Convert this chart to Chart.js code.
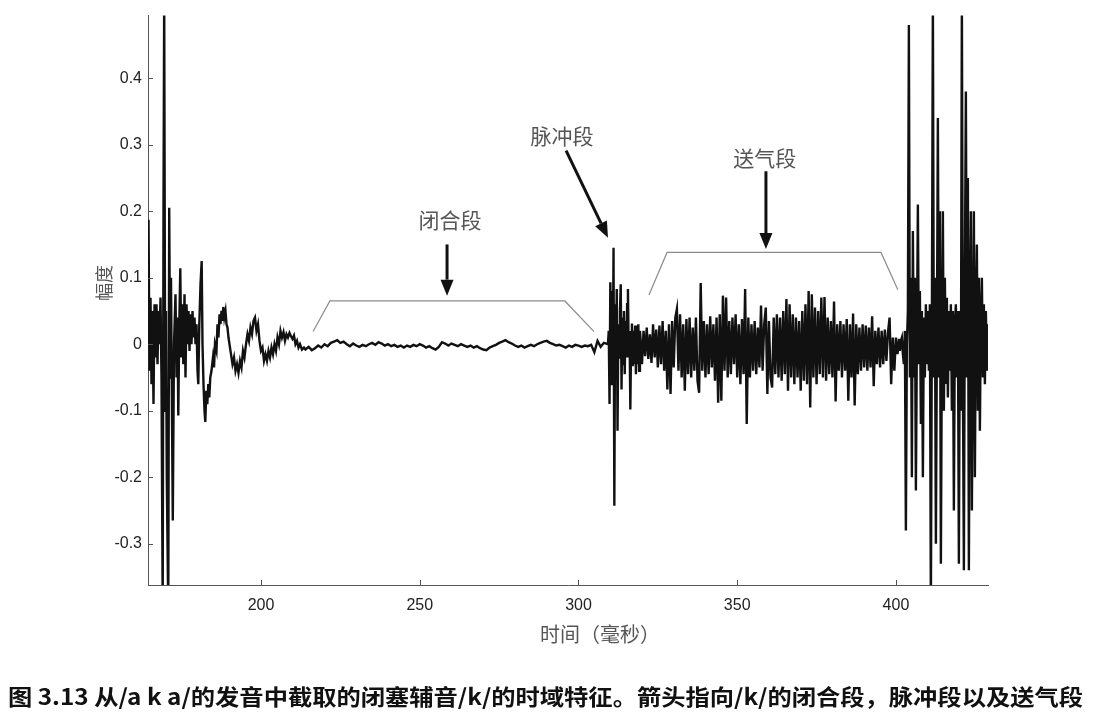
<!DOCTYPE html>
<html lang="zh">
<head>
<meta charset="utf-8">
<title>闭塞辅音/k/的时域特征</title>
<script src="https://cdn.jsdelivr.net/npm/chart.js@4.4.1/dist/chart.umd.min.js"></script>
<style>
  html, body { margin: 0; padding: 0; background: #fff; }
  canvas { display: block; }
</style>
</head>
<body>
<canvas id="wave" width="1107" height="726"></canvas>
<script>
'use strict';

/* ── Data: waveform segments (time in ms, amplitude) ─────────────── */
// onset of /a/ and decay into the closure, irregular samples
const onsetTime = [
  164.40, 164.56, 164.87, 165.19, 165.50, 165.82, 166.13, 166.45, 166.76, 167.08,
  167.39, 167.71, 168.02, 168.34, 168.65, 169.03, 169.28, 169.50, 169.82, 170.07,
  170.32, 170.79, 171.08, 171.39, 171.64, 172.21, 172.59, 173.06, 173.38, 173.69,
  173.94, 174.26, 174.57, 174.89, 175.20, 175.52, 175.90, 176.21, 176.53, 176.84,
  177.16, 177.47, 177.79, 178.10, 178.42, 178.73, 179.05, 179.36, 179.68, 179.99,
  180.24, 180.56, 180.94, 181.31, 181.57, 181.88, 182.20, 182.45, 182.76, 183.08,
  183.39, 183.71, 184.02, 184.40, 184.87, 185.19, 185.50, 185.97, 186.29, 186.60,
  186.92, 187.23, 187.55, 187.86, 188.12, 188.43, 188.81, 189.13, 189.44, 189.76,
  190.07, 190.54, 191.01, 191.49, 191.96, 192.43, 192.90, 193.38, 193.85, 194.32,
  194.79, 195.27, 195.74, 196.21, 196.68, 197.16, 197.63, 198.10, 198.57, 199.05,
  199.52, 199.99, 200.46, 200.94, 201.41, 201.88, 202.35, 202.83, 203.30, 203.77,
  204.24, 204.71, 205.19, 205.66, 206.13, 206.60, 207.08, 207.55, 208.02, 208.49,
  208.97, 209.44, 209.91, 210.38, 210.86, 211.33, 211.80, 212.27, 212.90, 213.53
];
const onsetAmp = [
  0.000, 0.187, -0.040, 0.070, -0.060, 0.050, -0.090, 0.060, -0.020, 0.060,
  -0.030, 0.050, 0.000, 0.070, -0.050, -0.400, 0.200, 0.520, -0.100, 0.050,
  -0.200, -0.400, 0.205, -0.050, 0.100, -0.265, 0.000, 0.075, -0.050, 0.040,
  -0.107, 0.030, 0.114, -0.020, 0.060, -0.030, 0.075, -0.050, 0.060, 0.000,
  0.050, -0.010, 0.045, 0.000, 0.050, 0.010, 0.040, 0.000, 0.030, -0.040,
  -0.060, 0.030, 0.090, 0.125, 0.000, -0.060, -0.100, -0.117, -0.070, -0.090,
  -0.060, -0.080, -0.050, -0.040, -0.020, -0.035, 0.000, -0.010, 0.030, 0.010,
  0.045, 0.030, 0.050, 0.035, 0.056, 0.040, 0.050, 0.030, 0.025, 0.010,
  0.000, -0.015, -0.030, -0.020, -0.040, -0.030, -0.043, -0.025, -0.035, -0.010,
  -0.020, 0.000, 0.015, 0.005, 0.025, 0.015, 0.035, 0.040, 0.020, 0.030,
  0.005, -0.010, -0.005, -0.025, -0.015, -0.025, -0.010, -0.020, -0.005, -0.015,
  0.000, -0.010, 0.010, 0.000, 0.020, 0.010, 0.018, 0.005, 0.015, 0.010,
  0.017, 0.012, 0.008, 0.013, 0.000, 0.005, -0.005, 0.000, -0.008, -0.005
];

// closure (闭合段): near-silence, one sample per ms
const CLOSURE_START = 214;
const CLOSURE_STEP = 1;
const closureAmp = [
  -0.008, -0.004, -0.009, -0.006, -0.002, -0.005, 0.000, -0.003, 0.002, 0.004,
  0.006, 0.002, 0.004, 0.000, -0.003, 0.001, -0.002, -0.004, -0.001, -0.003,
  0.000, 0.002, -0.001, 0.003, 0.001, -0.002, 0.000, -0.003, -0.001, -0.004,
  -0.002, -0.005, -0.002, -0.004, -0.001, -0.003, 0.000, -0.002, -0.005, -0.003,
  -0.006, -0.008, -0.004, 0.003, 0.001, -0.002, 0.001, -0.001, -0.003, 0.000,
  -0.002, -0.004, -0.002, -0.005, -0.003, -0.006, -0.008, -0.009, -0.005, -0.003,
  -0.001, 0.002, 0.004, 0.006, 0.003, 0.001, -0.002, -0.004, -0.002, -0.005,
  -0.003, -0.001, -0.003, 0.000, 0.002, 0.004, 0.005, 0.002, 0.000, -0.002,
  -0.001, -0.003, -0.005, -0.002, -0.004, -0.001, -0.002, -0.004, -0.002, -0.003,
  -0.001, -0.012, 0.005, -0.004, 0.002
];

// release burst (脉冲段)
const BURST_START = 309.28;
const BURST_STEP = 0.252;
const burstAmp = [
  0.000, 0.020, -0.090, 0.093, -0.060, 0.080, -0.050, 0.145, -0.243, 0.060,
  -0.040, 0.083, -0.130, 0.030, -0.020, 0.050, 0.090, -0.068, 0.040, -0.030,
  0.050, -0.045, 0.035, -0.020, 0.060, 0.083, -0.020, 0.020, -0.098, 0.010,
  0.031, -0.033, 0.020, -0.030, 0.028, -0.045, 0.025, -0.030, 0.030, -0.040,
  0.020
];

// aspiration (送气段): noise, one sample per 0.5 ms
const ASPIRATION_START = 319.5;
const ASPIRATION_STEP = 0.5;
const aspirationAmp = [
  0.012, -0.030, 0.020, -0.018, 0.025, -0.022, 0.015, -0.028, 0.030, -0.020,
  0.022, -0.035, 0.028, -0.030, 0.035, -0.040, 0.020, -0.068, 0.030, -0.075,
  0.035, -0.035, 0.040, 0.053, -0.040, 0.045, -0.050, 0.030, -0.070, 0.038,
  -0.045, 0.040, -0.050, 0.025, -0.040, 0.040, -0.055, -0.073, 0.092, -0.040,
  0.035, -0.050, 0.030, -0.045, 0.042, -0.035, 0.030, -0.055, 0.040, -0.088,
  0.045, -0.085, 0.073, -0.040, 0.070, -0.050, 0.035, -0.045, 0.040, -0.030,
  0.045, -0.050, 0.030, -0.060, 0.038, -0.045, 0.083, -0.120, 0.040, -0.050,
  0.030, -0.040, 0.035, -0.045, 0.025, -0.035, 0.058, -0.040, 0.030, 0.055,
  -0.075, 0.035, -0.050, -0.065, 0.040, -0.045, 0.045, -0.050, 0.040, -0.055,
  0.050, -0.045, 0.068, -0.070, 0.060, -0.050, 0.045, -0.060, 0.040, -0.050,
  0.035, -0.070, 0.050, -0.055, 0.060, -0.060, 0.080, -0.095, 0.075, -0.050,
  0.055, -0.060, 0.050, -0.045, 0.070, -0.050, 0.071, -0.055, 0.040, -0.045,
  0.035, -0.050, 0.064, -0.086, 0.030, -0.040, 0.035, -0.050, 0.030, -0.040,
  0.038, -0.085, 0.030, -0.050, 0.046, -0.092, 0.030, -0.045, 0.025, -0.040,
  0.030, -0.035, 0.028, -0.040, 0.025, -0.035, 0.042, -0.063, 0.020, -0.030,
  0.025, -0.035, 0.020, -0.030, 0.022, -0.025, 0.018, 0.040, -0.060, 0.010,
  -0.040, 0.010, -0.015, 0.008
];

// following vowel /a/, one sample per 0.315 ms
const VOWEL_START = 401.24;
const VOWEL_STEP = 0.315;
const vowelAmp = [
  -0.010, 0.005, 0.010, -0.015, -0.030, 0.020, -0.280, 0.000, 0.050, 0.480,
  -0.050, 0.100, -0.200, 0.170, -0.050, 0.100, -0.220, 0.000, 0.210, -0.030,
  0.080, -0.120, 0.050, -0.200, 0.040, -0.050, 0.060, -0.030, 0.050, -0.040,
  0.060, -0.400, 0.030, 0.520, -0.050, 0.100, -0.300, 0.000, 0.340, -0.050,
  0.200, -0.330, 0.000, 0.200, -0.100, 0.100, -0.060, 0.070, -0.080, 0.050,
  -0.040, 0.060, -0.100, 0.050, -0.250, 0.030, 0.060, -0.050, 0.050, -0.330,
  0.050, -0.100, 0.520, -0.050, -0.340, 0.100, 0.380, -0.050, 0.250, -0.340,
  0.050, 0.200, -0.250, 0.000, 0.200, -0.200, 0.050, 0.150, -0.100, 0.100,
  -0.130, 0.040, 0.100, -0.050, 0.060, -0.060, 0.050, -0.040, 0.030
];

const X_TICKS = [200, 250, 300, 350, 400];
const Y_TICKS = [0.4, 0.3, 0.2, 0.1, 0, -0.1, -0.2, -0.3];
const X_RANGE = [164.4, 429.0];
const Y_RANGE = [-0.362, 0.494];

/* ── Annotations (data coordinates) ───────────────────────────────── */
const ANNOTATIONS = {
  brackets: [
    [[216.4, 0.019], [221.7, 0.065], [295.7, 0.065], [304.9, 0.019]],
    [[322.2, 0.074], [327.9, 0.138], [395.3, 0.138], [400.6, 0.082]],
  ],
  arrows: [
    { from: [258.6, 0.150], to: [258.6, 0.073] },
    { from: [296.1, 0.291], to: [309.3, 0.160] },
    { from: [359.05, 0.260], to: [359.05, 0.143] },
  ],
  labels: [
    { text: '闭合段', at: [259.5, 0.187] },
    { text: '脉冲段', at: [294.8, 0.313] },
    { text: '送气段', at: [358.7, 0.280] },
  ],
};

const TEXT = {
  yTitle: '幅度',
  xTitle: '时间（毫秒）',
  caption: '图 3.13 从/a k a/的发音中截取的闭塞辅音/k/的时域特征。箭头指向/k/的闭合段，脉冲段以及送气段',
};

const COLORS = {
  wave: '#111',
  axis: '#555',
  tickText: '#222',
  bracket: '#8c8c8c',
  arrow: '#111',
  label: '#555',
  caption: '#111',
};

const CJK = "'Noto Sans CJK SC', 'Noto Sans', sans-serif";
const LATIN = "'Liberation Sans', Arial, sans-serif";

/* ── Build points ─────────────────────────────────────────────────── */
const fromRegular = (start, step, amps) => amps.map((v, i) => ({ x: start + i * step, y: v }));
const fromPairs = (times, amps) => times.map((t, i) => ({ x: t, y: amps[i] }));

const points = [
  ...fromPairs(onsetTime, onsetAmp),
  ...fromRegular(CLOSURE_START, CLOSURE_STEP, closureAmp),
  ...fromRegular(BURST_START, BURST_STEP, burstAmp),
  ...fromRegular(ASPIRATION_START, ASPIRATION_STEP, aspirationAmp),
  ...fromRegular(VOWEL_START, VOWEL_STEP, vowelAmp),
];

/* ── Overlay: inward ticks, brackets, arrows, labels, titles, caption ── */
function drawArrow(ctx, x1, y1, x2, y2) {
  const ang = Math.atan2(y2 - y1, x2 - x1);
  const headLen = 16, headHalf = 6.5;
  const bx = x2 - headLen * Math.cos(ang), by = y2 - headLen * Math.sin(ang);
  ctx.beginPath();
  ctx.moveTo(x1, y1);
  ctx.lineTo(bx, by);
  ctx.stroke();
  ctx.beginPath();
  ctx.moveTo(x2, y2);
  ctx.lineTo(bx + headHalf * Math.sin(ang), by - headHalf * Math.cos(ang));
  ctx.lineTo(bx - headHalf * Math.sin(ang), by + headHalf * Math.cos(ang));
  ctx.closePath();
  ctx.fill();
}

const overlayPlugin = {
  id: 'overlay',
  afterDraw(chart) {
    const { ctx, chartArea: area, scales: { x, y } } = chart;
    const toPx = p => [x.getPixelForValue(p[0]), y.getPixelForValue(p[1])];
    ctx.save();

    // inward tick marks
    ctx.strokeStyle = COLORS.axis;
    ctx.lineWidth = 1;
    ctx.beginPath();
    Y_TICKS.forEach(v => {
      const py = Math.round(y.getPixelForValue(v)) + 0.5;
      ctx.moveTo(area.left, py);
      ctx.lineTo(area.left + 5, py);
    });
    X_TICKS.forEach(v => {
      const px = Math.round(x.getPixelForValue(v)) + 0.5;
      ctx.moveTo(px, area.bottom);
      ctx.lineTo(px, area.bottom - 5);
    });
    ctx.stroke();

    // brackets
    ctx.strokeStyle = COLORS.bracket;
    ctx.lineWidth = 1.2;
    ANNOTATIONS.brackets.forEach(b => {
      ctx.beginPath();
      b.forEach((p, i) => {
        const [px, py] = toPx(p);
        if (i === 0) ctx.moveTo(px, py); else ctx.lineTo(px, py);
      });
      ctx.stroke();
    });

    // arrows
    ctx.strokeStyle = COLORS.arrow;
    ctx.fillStyle = COLORS.arrow;
    ctx.lineWidth = 3;
    ANNOTATIONS.arrows.forEach(a => {
      const [x1, y1] = toPx(a.from);
      const [x2, y2] = toPx(a.to);
      drawArrow(ctx, x1, y1, x2, y2);
    });

    // segment labels
    ctx.fillStyle = COLORS.label;
    ctx.font = `21px ${CJK}`;
    ctx.textAlign = 'center';
    ctx.textBaseline = 'middle';
    ANNOTATIONS.labels.forEach(l => {
      const [px, py] = toPx(l.at);
      ctx.fillText(l.text, px, py);
    });

    // axis titles
    ctx.font = `20px ${CJK}`;
    ctx.fillText(TEXT.xTitle, 600, 634);
    ctx.save();
    ctx.translate(104, 283);
    ctx.rotate(-Math.PI / 2);
    ctx.font = `18px ${CJK}`;
    ctx.fillText(TEXT.yTitle, 0, 0);
    ctx.restore();

    // caption, stretched to the printed width
    ctx.fillStyle = COLORS.caption;
    ctx.font = `bold 22px ${CJK}`;
    ctx.textAlign = 'left';
    const w = ctx.measureText(TEXT.caption).width;
    ctx.save();
    ctx.translate(8, 697);
    ctx.scale(1075 / w, 1);
    ctx.fillText(TEXT.caption, 0, 0);
    ctx.restore();

    ctx.restore();
  },
};

/* ── Chart ───────────────────────────────────────────────────────── */
new Chart(document.getElementById('wave').getContext('2d'), {
  type: 'line',
  data: {
    datasets: [{
      data: points,
      borderColor: COLORS.wave,
      borderWidth: 2.4,
      pointRadius: 0,
      tension: 0,
      fill: false,
    }],
  },
  options: {
    responsive: false,
    animation: false,
    layout: { padding: { top: 8, right: 119, bottom: 0, left: 0 } },
    plugins: { legend: { display: false }, tooltip: { enabled: false } },
    scales: {
      x: {
        type: 'linear',
        min: X_RANGE[0],
        max: X_RANGE[1],
        afterFit: s => { s.height = 141; },
        afterBuildTicks: s => { s.ticks = X_TICKS.map(v => ({ value: v })); },
        grid: { display: false, drawTicks: false },
        border: { display: true, color: COLORS.axis, width: 1 },
        ticks: {
          padding: 11,
          color: COLORS.tickText,
          font: { family: LATIN, size: 16 },
          callback: v => String(v),
        },
      },
      y: {
        type: 'linear',
        min: Y_RANGE[0],
        max: Y_RANGE[1],
        afterFit: s => { s.width = 148; },
        afterBuildTicks: s => { s.ticks = Y_TICKS.map(v => ({ value: v })); },
        grid: { display: false, drawTicks: false },
        border: { display: true, color: COLORS.axis, width: 1 },
        ticks: {
          padding: 6,
          color: COLORS.tickText,
          font: { family: LATIN, size: 16 },
          callback: v => String(Math.round(v * 10) / 10),
        },
      },
    },
  },
  plugins: [overlayPlugin],
});
</script>
</body>
</html>
